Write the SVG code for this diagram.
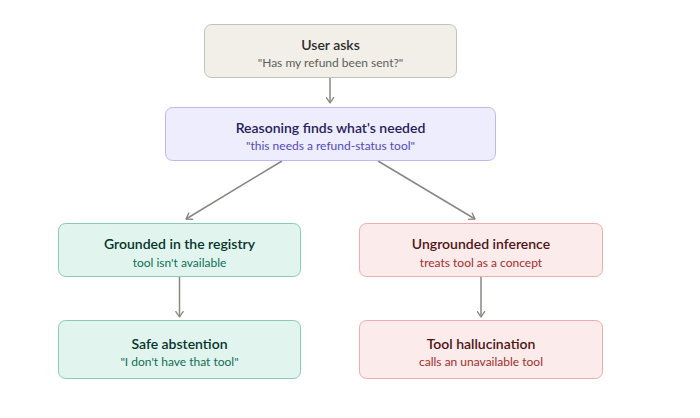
<svg xmlns="http://www.w3.org/2000/svg" width="700" height="418" viewBox="0 0 700 418">
<style>
.t{font-family:Lato,"Open Sans",sans-serif;font-size:14px;font-weight:600;text-anchor:middle}
.s{font-family:Lato,"Open Sans",sans-serif;font-size:12px;text-anchor:middle}
.gray rect{fill:#f1efe8;stroke:#b4b2a9}
.gray .t{fill:#2c2c2a}.gray .s{fill:#5f5e5a}
.pur rect{fill:#eeedfe;stroke:#afa9ec}
.pur .t{fill:#26215c}.pur .s{fill:#534ab7}
.grn rect{fill:#e1f5ee;stroke:#6fbfa3}
.grn .t{fill:#04342c}.grn .s{fill:#0f6e56}
.red rect{fill:#fcebeb;stroke:#e99a9a}
.red .t{fill:#501313}.red .s{fill:#a32d2d}
rect{stroke-width:0.8}
.e{stroke:#888780;stroke-width:1.5;fill:none;marker-end:url(#a)}
</style>
<defs>
<marker id="a" viewBox="0 0 10 10" refX="8" refY="5" markerWidth="6" markerHeight="6" orient="auto-start-reverse">
<path d="M2 1L8 5L2 9" fill="none" stroke="#888780" stroke-width="1.5" stroke-linecap="round" stroke-linejoin="round"/>
</marker>
</defs>
<g id="connectors">
<line class="e" x1="330" y1="78" x2="330" y2="103"/>
<line class="e" x1="282" y1="161" x2="186" y2="219"/>
<line class="e" x1="378" y1="161" x2="475" y2="219"/>
<line class="e" x1="179.5" y1="277" x2="179.5" y2="317"/>
<line class="e" x1="481" y1="277" x2="481" y2="317"/>
</g>
<g id="user" class="gray">
<rect x="204.5" y="24.5" width="252" height="53" rx="7"/>
<text class="t" x="330.5" y="50">User asks</text>
<text class="s" x="330.5" y="67">"Has my refund been sent?"</text>
</g>
<g id="reasoning" class="pur">
<rect x="165.5" y="107.5" width="330" height="53" rx="7"/>
<text class="t" x="330.5" y="133">Reasoning finds what's needed</text>
<text class="s" x="330.5" y="150">"this needs a refund-status tool"</text>
</g>
<g id="grounded" class="grn">
<rect x="58.5" y="223.5" width="242" height="53" rx="7"/>
<text class="t" x="179.5" y="249">Grounded in the registry</text>
<text class="s" x="179.5" y="267">tool isn't available</text>
</g>
<g id="safe" class="grn">
<rect x="58.5" y="320.5" width="242" height="58" rx="7"/>
<text class="t" x="179.5" y="349">Safe abstention</text>
<text class="s" x="179.5" y="366">"I don't have that tool"</text>
</g>
<g id="ungrounded" class="red">
<rect x="359.5" y="223.5" width="243" height="53" rx="7"/>
<text class="t" x="481" y="249">Ungrounded inference</text>
<text class="s" x="481" y="267">treats tool as a concept</text>
</g>
<g id="halluc" class="red">
<rect x="359.5" y="320.5" width="243" height="58" rx="7"/>
<text class="t" x="481" y="349">Tool hallucination</text>
<text class="s" x="481" y="366">calls an unavailable tool</text>
</g>
</svg>
